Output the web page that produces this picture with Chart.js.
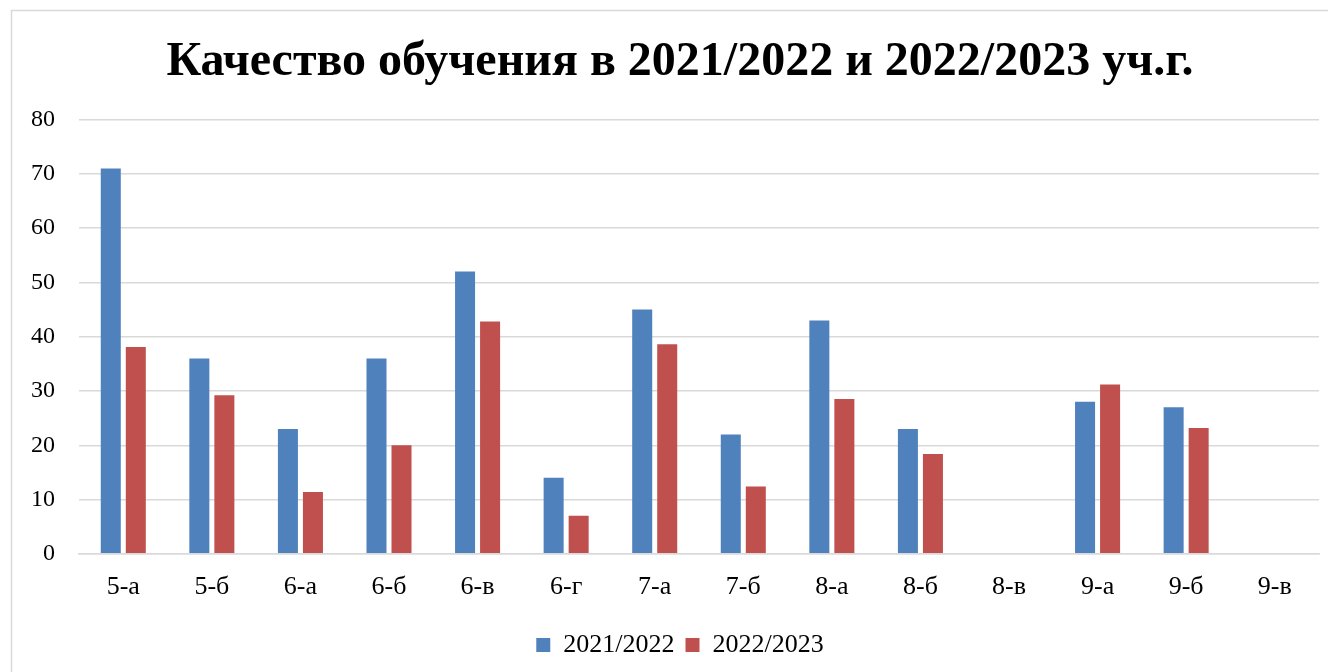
<!DOCTYPE html>
<html>
<head>
<meta charset="utf-8">
<script src="https://cdn.jsdelivr.net/npm/chart.js@4/dist/chart.umd.min.js"></script>
<style>
  html, body { margin: 0; padding: 0; background: #fff; overflow: hidden; }
  #wrap { position: absolute; left: 0; top: 0; width: 1360px; height: 672px; }
</style>
</head>
<body>
<div id="wrap"><canvas id="myChart"></canvas></div>
<script>
const classes = ['5-а', '5-б', '6-а', '6-б', '6-в', '6-г', '7-а', '7-б', '8-а', '8-б', '8-в', '9-а', '9-б', '9-в'];
const year2122 = [71, 36, 23, 36, 52, 14, 45, 22, 43, 23, null, 28, 27, null];
const year2223 = [38.1, 29.2, 11.4, 20, 42.8, 7, 38.6, 12.4, 28.5, 18.4, null, 31.2, 23.2, null];

const BLUE = '#4F81BD';
const RED = '#C0504D';
const GRID = '#d9d9d9';
const FONT = "'Liberation Serif', 'Times New Roman', serif";

// light frame round the whole chart, like the office export
const frame = {
  id: 'frame',
  beforeDraw(chart) {
    const c = chart.ctx;
    c.save();
    c.fillStyle = '#fff';
    c.fillRect(0, 0, chart.width, chart.height);
    c.strokeStyle = GRID;
    c.lineWidth = 1.5;
    c.strokeRect(11.5, 10.5, chart.width, chart.height);
    c.restore();
  }
};

const config = {
  type: 'bar',
  data: {
    labels: classes,
    datasets: [
      { label: '2021/2022', data: year2122, backgroundColor: BLUE },
      { label: '2022/2023', data: year2223, backgroundColor: RED }
    ]
  },
  options: {
    responsive: true,
    maintainAspectRatio: false,
    animation: false,
    categoryPercentage: 0.565,
    barPercentage: 0.8,
    layout: { padding: { left: 0, right: 0, top: 0, bottom: 4 } },
    scales: {
      x: {
        grid: { display: false, drawTicks: false },
        border: { display: true, color: GRID, width: 1.5 },
        ticks: { color: '#000', font: { family: FONT, size: 26 }, padding: 18, maxRotation: 0 }
      },
      y: {
        min: 0, max: 80,
        afterFit(scale) { scale.width = 79; },
        grid: { color: GRID, lineWidth: 1.5, drawTicks: false },
        border: { display: false },
        ticks: { stepSize: 10, color: '#000', font: { family: FONT, size: 24 }, padding: 24 }
      },
      y2: {
        position: 'right',
        display: true,
        afterFit(scale) { scale.width = 41; },
        grid: { display: false, drawTicks: false },
        border: { display: false },
        ticks: { display: false }
      }
    },
    plugins: {
      title: {
        display: true,
        text: 'Качество обучения в 2021/2022 и 2022/2023 уч.г.',
        color: '#000',
        font: { family: FONT, size: 48, weight: 'bold' },
        padding: { top: 34, bottom: 28 }
      },
      legend: {
        position: 'bottom',
        labels: {
          color: '#000',
          font: { family: FONT, size: 26 },
          boxWidth: 14,
          boxHeight: 14,
          padding: 11
        }
      },
      tooltip: { enabled: false }
    }
  },
  plugins: [frame]
};

const ctx = document.getElementById('myChart').getContext('2d');
const myChart = new Chart(ctx, config);
</script>
</body>
</html>
